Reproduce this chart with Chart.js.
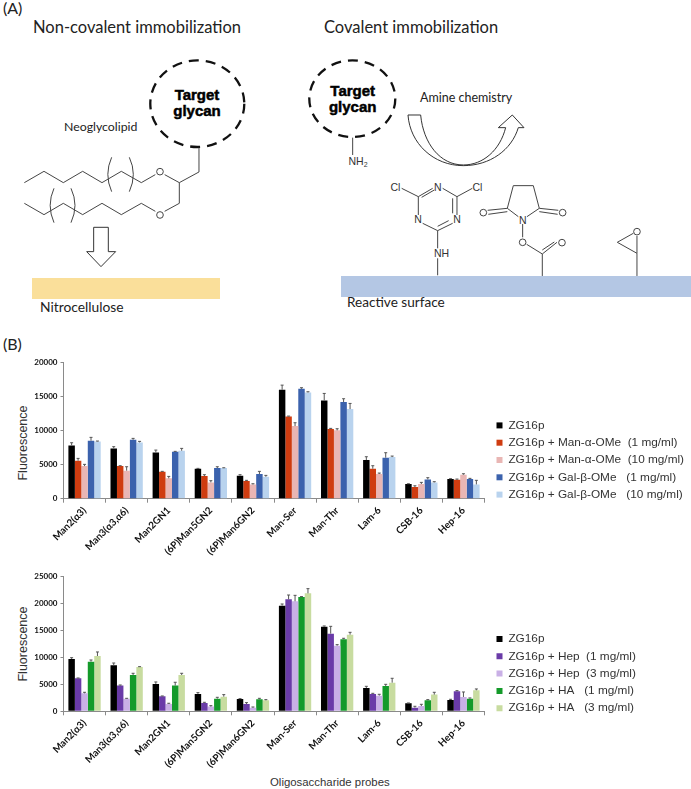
<!DOCTYPE html>
<html>
<head>
<meta charset="utf-8">
<script src="https://cdn.jsdelivr.net/npm/chart.js@4"></script>
<style>
    html, body { margin: 0; padding: 0; background: #fff; }
    #page { position: relative; width: 691px; height: 789px; overflow: hidden; }
    #page canvas, #page svg { position: absolute; left: 0; }
    #diagram { top: 0; }
    #chartTop { top: 340px; }
    #chartBottom { top: 560px; }
    .lato { font-family: Lato, sans-serif; fill: #222; }
    .arial { font-family: "Liberation Sans", sans-serif; fill: #333; }
    .glycan { font-family: "Liberation Sans", sans-serif; font-weight: 700; font-size: 15px; text-anchor: middle; fill: #000; stroke: #000; stroke-width: .5px; }
    .atom { font-family: "Liberation Sans", sans-serif; font-size: 10.5px; text-anchor: middle; fill: #333; }
    .bond { fill: none; stroke: #444; stroke-width: 3; }
    .outline { fill: #fff; stroke: #333; stroke-width: 3; }
    .dash { fill: none; stroke: #111; stroke-width: 2.3; stroke-dasharray: 10 7; }
</style>
</head>
<body>
<div id="page">
    <svg id="diagram" width="691" height="789">
        <text class="lato" x="3" y="14" font-size="16">(A)</text>
        <text class="lato" x="33" y="33" font-size="16.5">Non-covalent immobilization</text>
        <text class="lato" x="324" y="33" font-size="16.5">Covalent immobilization</text>
        <text class="lato" x="64" y="131" font-size="12.3">Neoglycolipid</text>
        <text class="lato" x="40" y="312" font-size="13.8">Nitrocellulose</text>
        <text class="lato" x="420" y="102" font-size="12.5">Amine chemistry</text>
        <text class="lato" x="347" y="307" font-size="13.6">Reactive surface</text>
        <text class="lato" x="3" y="350" font-size="16">(B)</text>

        <rect x="32" y="278" width="188" height="21" fill="#fadf9a"/>
        <rect x="341" y="276" width="350" height="21" fill="#b4c7e4"/>

        <ellipse class="dash" cx="197.3" cy="103.7" rx="47" ry="43.3"/>
        <text class="glycan" x="197" y="100">Target</text>
        <text class="glycan" x="197" y="116">glycan</text>
        <ellipse class="dash" cx="352.3" cy="98.7" rx="43" ry="38.3"/>
        <text class="glycan" x="352.7" y="96">Target</text>
        <text class="glycan" x="352.7" y="112">glycan</text>

        <!-- left structure, traced at 3x -->
        <g transform="scale(0.3333)">
            <path class="bond" d="M73,548 L132,514 L190,548 L248,514 L306,548 L364,514 L424,548 L466,524 M494,524 L538,548 L597,516 L597,443"/>
            <path class="bond" d="M538,548 L538,610 L494,634 M466,634 L424,610 L364,644 L306,610 L248,644 L190,610 L132,644 L73,610"/>
            <path class="bond" d="M335,472 Q312,523 335,575 M388,472 Q412,523 388,575 M162,565 Q139,616 162,668 M213,565 Q237,616 213,668"/>
            <circle class="bond" cx="480" cy="515" r="10"/>
            <circle class="bond" cx="480" cy="645" r="10"/>
            <path class="outline" d="M281,682 L325,682 L325,755 L347,755 L303,800 L260,755 L281,755 Z"/>
        </g>

        <!-- right structures, traced at 3x -->
        <g transform="translate(300 0) scale(0.3333)">
            <path class="bond" d="M158,413 L158,465"/>
            <path class="outline" d="M324,345 L362,345 C370,430 420,495 490,495 C550,495 600,450 617,383 L595,383 L637,345 L672,383 L655,383 C635,450 570,497 490,497 C400,497 330,430 324,345 Z"/>
            <path class="bond" d="M355,590 L398,565 M428,565 L471,590 L471,645 M458,595 L458,640 M355,590 L355,645 M368,670 L413,692 L458,670 M413,679 L446,662 M403,570 L365,592 M413,692 L413,745 M413,775 L413,826 M355,590 L305,565 M471,590 L517,565"/>
            <path class="bond" d="M655,650 L622,625 L640,557 L700,557 L718,625 L681,650 M622,625 L563,631 M622,635 L565,643 M718,625 L775,631 M718,635 L773,643"/>
            <path class="bond" d="M668,672 L668,712 M680,733 L727,762 L771,727 M727,750 L763,726 M727,762 L727,828"/>
            <path class="bond" d="M1000,700 L952,727 L1011,760 L1011,708 M1011,760 L1011,828"/>
            <circle class="bond" cx="550" cy="638" r="10"/>
            <circle class="bond" cx="788" cy="638" r="10"/>
            <circle class="bond" cx="668" cy="727" r="10"/>
            <circle class="bond" cx="786" cy="728" r="10"/>
            <circle class="bond" cx="1011" cy="695" r="10"/>
        </g>
        <text class="atom" x="437.7" y="190.5">N</text>
        <text class="atom" x="418" y="223">N</text>
        <text class="atom" x="457" y="223">N</text>
        <text class="atom" x="395.5" y="190.5">Cl</text>
        <text class="atom" x="477.5" y="190.5">Cl</text>
        <text class="atom" x="441.5" y="257">NH</text>
        <text class="atom" x="522.7" y="224">N</text>
        <text class="atom" x="358" y="165">NH<tspan font-size="7" dy="2">2</tspan></text>

        <text class="arial" transform="translate(27 443) rotate(-90)" font-size="12.5" text-anchor="middle">Fluorescence</text>
        <text class="arial" transform="translate(27 644) rotate(-90)" font-size="12.5" text-anchor="middle">Fluorescence</text>
        <text class="arial" x="270" y="786" font-size="11.4">Oligosaccharide probes</text>
    </svg>
    <canvas id="chartTop" width="691" height="220"></canvas>
    <canvas id="chartBottom" width="691" height="229"></canvas>
</div>
<script>
const probes = ['Man2(α3)', 'Man3(α3,α6)', 'Man2GN1', '(6P)Man5GN2', '(6P)Man6GN2', 'Man-Ser', 'Man-Thr', 'Lam-6', 'CSB-16', 'Hep-16'];

// upper panel, values and top of the error bar
const zg16pA = [7840, 7400, 6810, 4410, 3380, 16020, 14450, 5680, 2160, 2890];
const zg16pATop = [8230, 7650, 7150, 4460, 3530, 16700, 15480, 6170, 2200, 2940];
const manOne = [5590, 4800, 3970, 3330, 2600, 12100, 10240, 4410, 1715, 2790];
const manOneTop = [5930, 4850, 4020, 3530, 2700, 12150, 10340, 4850, 1900, 2890];
const manTen = [4800, 4120, 2990, 2400, 2100, 10680, 10050, 3630, 2160, 3530];
const manTenTop = [5050, 4700, 3280, 2650, 2200, 11170, 10290, 3770, 2400, 3670];
const galOne = [8530, 8670, 6910, 4510, 3630, 16170, 14210, 6030, 2840, 2890];
const galOneTop = [9020, 8870, 6960, 4700, 4020, 16320, 14700, 6760, 3090, 2990];
const galTen = [8430, 8280, 7050, 4500, 3230, 15630, 13180, 6120, 2400, 2100];
const galTenTop = [8480, 8430, 7400, 4550, 3430, 15730, 14010, 6270, 2500, 2700];

// lower panel
const zg16pB = [9720, 8540, 5080, 3220, 2290, 19620, 15720, 4330, 1490, 2100];
const zg16pBTop = [9960, 8970, 5450, 3470, 2350, 19930, 15850, 4640, 1550, 2230];
const hepOne = [6130, 4770, 2790, 1550, 1360, 20800, 14420, 3220, 680, 3710];
const hepOneTop = [6190, 4890, 2850, 1670, 1610, 21600, 15780, 3340, 930, 3840];
const hepThree = [3340, 2350, 1360, 870, 680, 20430, 12190, 2910, 990, 2660];
const hepThreeTop = [3530, 2410, 1490, 1050, 800, 21540, 12380, 3160, 1300, 3590];
const haOne = [9220, 6750, 4770, 2350, 2230, 21230, 13370, 4700, 2040, 2350];
const haOneTop = [9530, 7060, 5390, 2600, 2410, 21300, 13560, 5010, 2170, 2480];
const haThree = [10270, 8230, 6750, 2720, 2040, 21910, 14240, 5320, 3100, 3900];
const haThreeTop = [11020, 8290, 7060, 3100, 2170, 22780, 14670, 6130, 3530, 4150];

const axisColor = '#8a8a8a';

// Chart.js has no error bars, so draw the upper whisker on each bar
const errorBars = {
    id: 'errorBars',
    afterDatasetsDraw(chart) {
        const {ctx, scales} = chart;
        ctx.save();
        ctx.strokeStyle = '#555';
        ctx.lineWidth = 1;
        chart.data.datasets.forEach((dataset, i) => {
            chart.getDatasetMeta(i).data.forEach((bar, j) => {
                const y = scales.y.getPixelForValue(dataset.top[j]);
                ctx.beginPath();
                ctx.moveTo(bar.x, bar.y);
                ctx.lineTo(bar.x, y);
                ctx.moveTo(bar.x - 1.5, y);
                ctx.lineTo(bar.x + 1.5, y);
                ctx.stroke();
            });
        });
        ctx.restore();
    }
};

// the legend sits beside the plot, without taking room from it
const placeLegend = {
    id: 'placeLegend',
    afterLayout(chart, args, options) {
        const legend = chart.legend;
        legend.left = options.x;
        legend.top = options.y;
        legend.right = options.x + 200;
        legend.bottom = options.y + 110;
    }
};

const buildChart = (id, datasets, yMax, top, bottom, legendY) => new Chart(document.getElementById(id), {
    type: 'bar',
    data: {labels: probes, datasets},
    plugins: [errorBars, placeLegend],
    options: {
        responsive: false,
        animation: false,
        events: [],
        datasets: {bar: {categoryPercentage: 0.767, barPercentage: 1}},
        layout: {padding: {top, right: 206.5, left: 0, bottom: 0}},
        plugins: {
            tooltip: {enabled: false},
            placeLegend: {x: 491, y: legendY},
            legend: {
                position: 'chartArea',
                align: 'start',
                labels: {
                    boxWidth: 6,
                    boxHeight: 6,
                    padding: 5.5,
                    color: '#333',
                    font: {family: '"Liberation Sans"', size: 11.8}
                }
            }
        },
        scales: {
            x: {
                grid: {offset: true, drawOnChartArea: false, tickLength: 4, tickColor: axisColor},
                border: {color: axisColor},
                afterFit: (scale) => { scale.height = bottom; },
                ticks: {
                    minRotation: 45,
                    maxRotation: 45,
                    padding: 2,
                    autoSkip: false,
                    color: '#111',
                    font: {family: 'Lato', weight: 'bold', size: 9.8}
                }
            },
            y: {
                min: 0,
                max: yMax,
                grid: {drawOnChartArea: false, tickLength: 3, tickColor: axisColor},
                border: {color: axisColor},
                afterFit: (scale) => { scale.width = 63.5; },
                ticks: {
                    stepSize: 5000,
                    padding: 3,
                    color: '#111',
                    callback: (value) => String(value),
                    font: {family: 'Lato', weight: 'bold', size: 8}
                }
            }
        }
    }
});

buildChart('chartTop', [
    {label: 'ZG16p', data: zg16pA, top: zg16pATop, backgroundColor: '#000000'},
    {label: 'ZG16p + Man-α-OMe  (1 mg/ml)', data: manOne, top: manOneTop, backgroundColor: '#cf3c10'},
    {label: 'ZG16p + Man-α-OMe  (10 mg/ml)', data: manTen, top: manTenTop, backgroundColor: '#e9b6b4'},
    {label: 'ZG16p + Gal-β-OMe   (1 mg/ml)', data: galOne, top: galOneTop, backgroundColor: '#3b62ad'},
    {label: 'ZG16p + Gal-β-OMe   (10 mg/ml)', data: galTen, top: galTenTop, backgroundColor: '#b9d3ee'}
], 20000, 22.7, 61.3, 74);

buildChart('chartBottom', [
    {label: 'ZG16p', data: zg16pB, top: zg16pBTop, backgroundColor: '#000000'},
    {label: 'ZG16p + Hep  (1 mg/ml)', data: hepOne, top: hepOneTop, backgroundColor: '#6a3ba8'},
    {label: 'ZG16p + Hep  (3 mg/ml)', data: hepThree, top: hepThreeTop, backgroundColor: '#c9b0e6'},
    {label: 'ZG16p + HA   (1 mg/ml)', data: haOne, top: haOneTop, backgroundColor: '#149a2a'},
    {label: 'ZG16p + HA   (3 mg/ml)', data: haThree, top: haThreeTop, backgroundColor: '#c8dca0'}
], 25000, 16.7, 77.7, 67.6);
</script>
</body>
</html>
